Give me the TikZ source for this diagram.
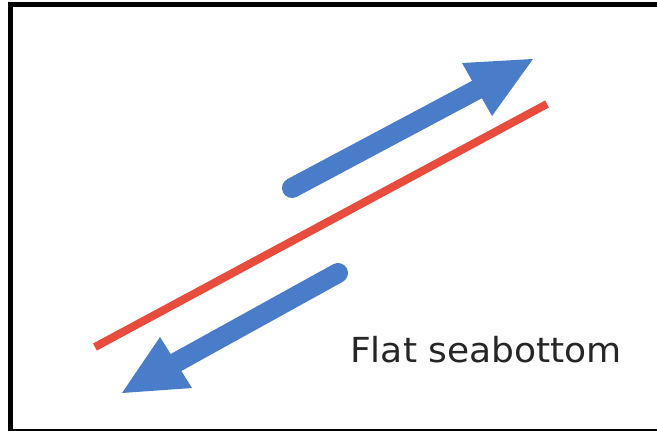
\documentclass[tikz,border=0pt]{standalone}
\usepackage{fontspec}
\newfontfamily\labelfont[FakeStretch=1.045]{DejaVu Sans}
\definecolor{arrowblue}{RGB}{74,125,201}
\definecolor{linered}{RGB}{231,76,60}
\begin{document}
\begin{tikzpicture}[x=1pt,y=-1pt,
  shaft/.style={arrowblue,line width=20pt,line cap=round},
  headtri/.style={fill=arrowblue,draw=none},
  bottomline/.style={linered,line width=8pt},
  frame/.style={draw=black,line width=5pt}]
\useasboundingbox (0,0) rectangle (657,431);
\fill[white] (0,0) rectangle (657,431);
\draw[frame] (10.5,4.5) rectangle (680,431);
% red seabottom line
\coordinate (r1) at (95,347);
\coordinate (r2) at (547,104);
\draw[bottomline] (r1) -- (r2);
% upper arrow
\coordinate (ut) at (292,188);
\coordinate (ub) at (477,89.5);
\coordinate (utip) at (533,59);
\coordinate (uc1) at (462,63);
\coordinate (uc2) at (492,116);
\draw[shaft] (ut) -- (ub);
\fill[headtri] (utip) -- (uc1) -- (uc2) -- cycle;
% lower arrow
\coordinate (lt) at (338,273);
\coordinate (lb) at (176,362.5);
\coordinate (ltip) at (122,393);
\coordinate (lc1) at (160,337);
\coordinate (lc2) at (192,388);
\draw[shaft] (lt) -- (lb);
\fill[headtri] (ltip) -- (lc1) -- (lc2) -- cycle;
% label
\node[anchor=base west,inner sep=0pt,text=black!85,font=\labelfont\fontsize{34.5}{40}\selectfont] (lbl) at (350,362) {Flat seabottom};
\end{tikzpicture}
\end{document}
